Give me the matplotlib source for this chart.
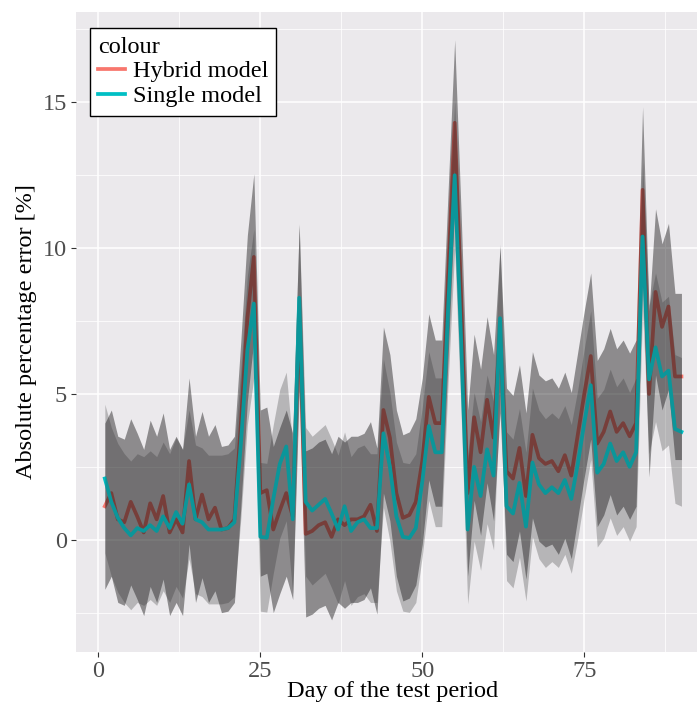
import numpy as np
import matplotlib

matplotlib.use("Agg")
import matplotlib.pyplot as plt
from matplotlib.lines import Line2D
from matplotlib.ticker import MultipleLocator

# daily absolute percentage error of both models
days = np.arange(1, 91)
hybrid = [1.15, 1.6, 0.7, 0.6, 1.3, 0.8, 0.25, 1.25, 0.7, 1.5,
          0.25, 0.7, 0.25, 2.7, 0.7, 1.55, 0.7, 1.1, 0.35, 0.4,
          0.7, 4.0, 7.6, 9.7, 1.6, 1.7, 0.35, 1.0, 1.6, 0.8,
          7.95, 0.2, 0.3, 0.5, 0.6, 0.1, 0.7, 0.5, 0.7, 0.7,
          0.8, 1.2, 0.3, 4.45, 3.5, 1.6, 0.75, 0.85, 1.3, 2.7,
          4.9, 4.0, 4.0, 9.2, 14.3, 8.3, 1.6, 4.2, 3.0, 4.8,
          3.5, 7.2, 2.35, 2.1, 3.15, 1.5, 3.6, 2.8, 2.6, 2.7,
          2.35, 2.9, 2.2, 3.6, 5.0, 6.3, 3.3, 3.7, 4.4, 3.7,
          4.0, 3.55, 4.0, 12.0, 5.0, 8.5, 7.3, 8.0, 5.6, 5.6]
single = [2.1, 1.3, 0.75, 0.4, 0.15, 0.4, 0.3, 0.5, 0.3, 0.8,
          0.4, 0.95, 0.55, 1.9, 0.7, 0.6, 0.35, 0.35, 0.35, 0.4,
          0.6, 3.3, 6.5, 8.1, 0.1, 0.07, 1.4, 2.6, 3.2, 0.7,
          8.3, 1.3, 1.0, 1.2, 1.4, 0.9, 0.35, 1.15, 0.3, 0.6,
          0.7, 0.4, 0.4, 3.65, 2.5, 0.8, 0.1, 0.06, 0.4, 2.0,
          3.9, 3.0, 3.0, 8.0, 12.5, 6.8, 0.35, 2.5, 1.5, 3.1,
          2.2, 7.6, 1.15, 0.9, 1.95, 0.45, 2.65, 1.9, 1.6, 1.8,
          1.6, 2.05, 1.4, 2.6, 4.0, 5.3, 2.3, 2.6, 3.3, 2.7,
          3.0, 2.5, 3.0, 10.4, 5.5, 6.6, 5.6, 5.8, 3.8, 3.7]
# half-widths of the grey uncertainty ribbons
hybrid_band = 2.85
single_band = 2.55

labels = ["Hybrid model", "Single model"]
colors = ["#F8766D", "#00BFC4"]

plt.rcParams["font.family"] = ["Liberation Serif", "DejaVu Serif"]

W, H = 697, 711
fig = plt.figure(figsize=(W / 100, H / 100), dpi=100, facecolor="white")
ax = fig.add_axes([76 / W, 59 / H, 621 / W, 640 / H])
ax.set_facecolor("#EBE9EC")

hyb = np.array(hybrid)
sgl = np.array(single)
# ggplot draw order: line, its ribbon, next line, its ribbon
ax.plot(days, hyb, color=colors[0], lw=2.7, zorder=1)
ax.fill_between(days, hyb - hybrid_band, hyb + hybrid_band, color="black",
                alpha=0.4, lw=0, zorder=2)
ax.plot(days, sgl, color=colors[1], lw=2.7, zorder=3)
ax.fill_between(days, sgl - single_band, sgl + single_band, color="#2a2a2a",
                alpha=0.27, lw=0, zorder=4)

ax.set_xlim(-3.45, 92.4)
ax.set_ylim(-3.85, 18.1)
ax.xaxis.set_major_locator(MultipleLocator(25))
ax.xaxis.set_minor_locator(MultipleLocator(12.5))
ax.yaxis.set_major_locator(MultipleLocator(5))
ax.yaxis.set_minor_locator(MultipleLocator(2.5))
ax.set_axisbelow(True)
ax.grid(which="major", color="white", lw=1.1)
ax.grid(which="minor", color="white", lw=0.55)
for s in ax.spines.values():
    s.set_visible(False)
ax.tick_params(which="major", length=3.5, width=0.8, color="#333333",
               labelsize=17.5, labelcolor="#4D4D4D", pad=3)
ax.tick_params(which="minor", length=0)

ax.set_xlabel("Day of the test period", fontsize=17.5)
ax.xaxis.set_label_coords(0.509, -0.046)
ax.set_ylabel("Absolute percentage error [%]", fontsize=17.5)
ax.yaxis.set_label_coords(-0.063, 0.5)

handles = [Line2D([], [], color=c, lw=2.7) for c in colors]
leg = ax.legend(handles, labels, title="colour", loc="upper left",
                bbox_to_anchor=(0.0225, 0.975), fontsize=17.5, title_fontsize=17.5,
                alignment="left", frameon=True, fancybox=False,
                edgecolor="black", facecolor="white", framealpha=1,
                handlelength=1.1, handletextpad=0.3, labelspacing=0.12,
                borderpad=0.35, borderaxespad=0)
leg.get_frame().set_linewidth(1.0)

fig.savefig("out.png", dpi=100)
